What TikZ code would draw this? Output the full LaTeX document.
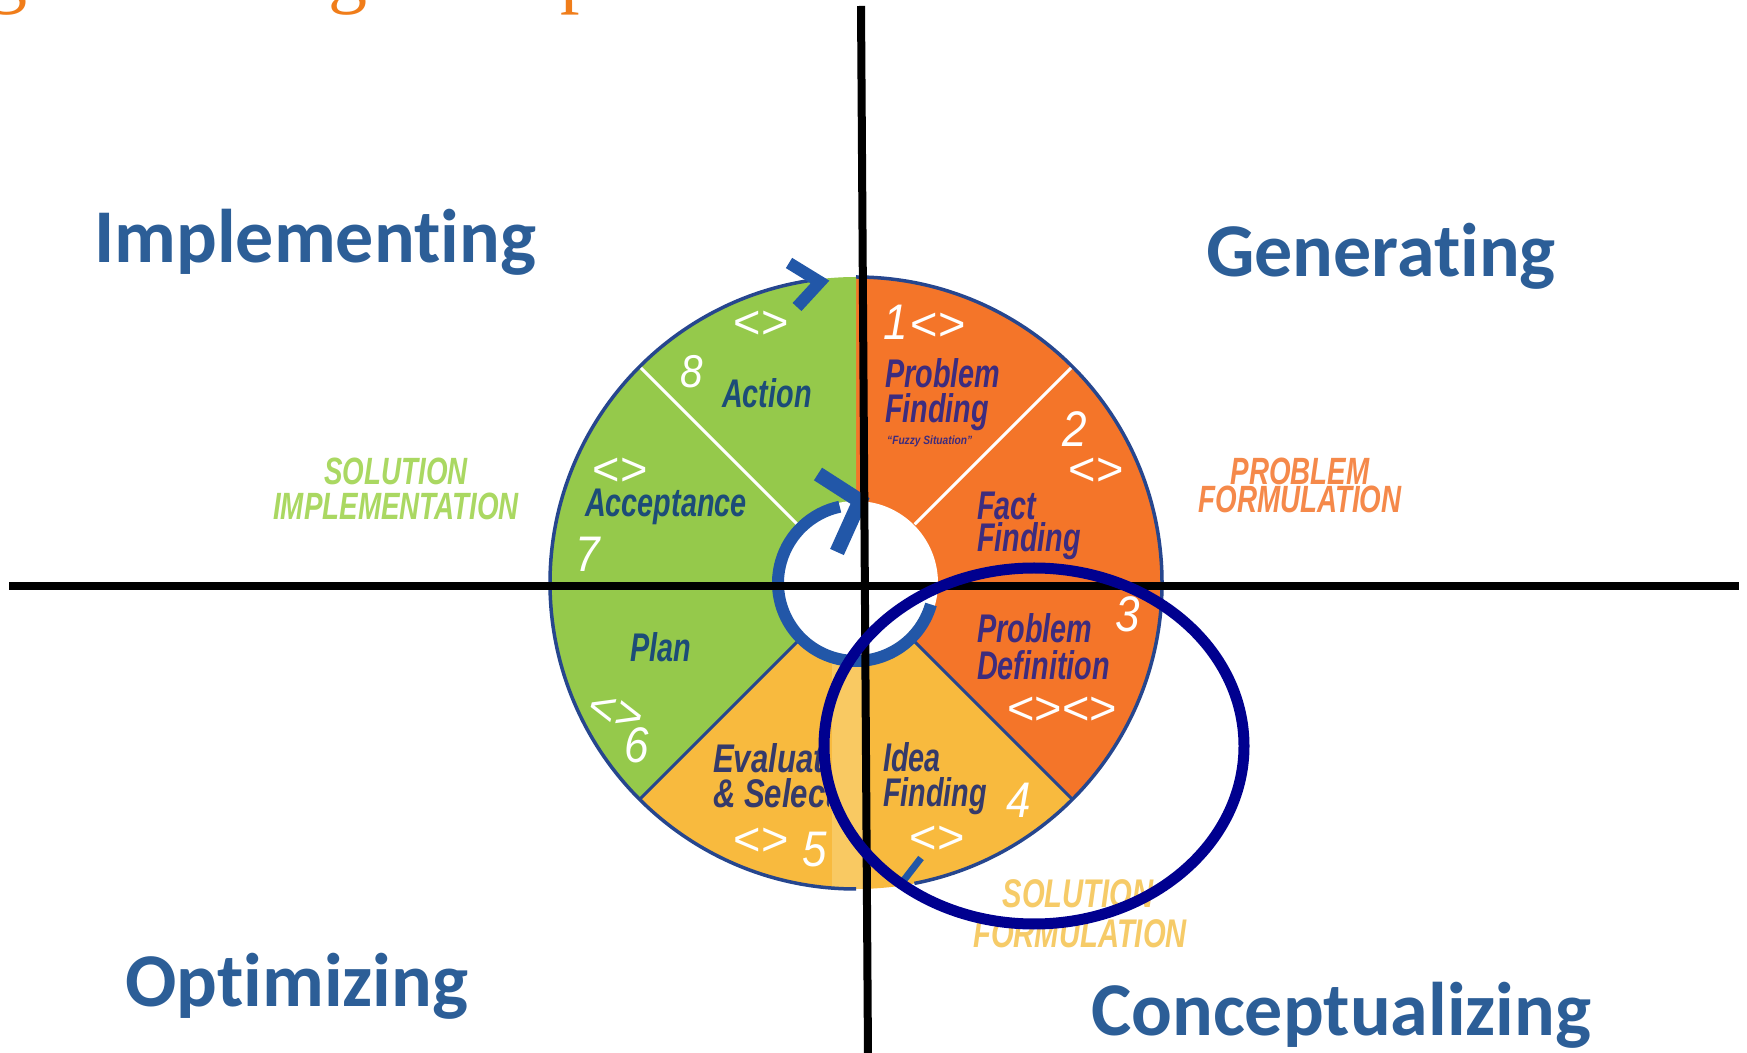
\documentclass[tikz,border=0pt]{standalone}
\usepackage{fontspec}
\usetikzlibrary{shapes.geometric}
\setmainfont{Liberation Sans}
\newfontfamily\calfont[Ligatures=NoCommon]{Carlito}
\newfontfamily\titlefont{Liberation Serif}
\definecolor{quadblue}{HTML}{2C5E97}
\definecolor{wgreen}{HTML}{95C94B}
\definecolor{worange}{HTML}{F47529}
\definecolor{wyellow}{HTML}{F8BA3E}
\definecolor{wlight}{HTML}{F9C962}
\definecolor{wborder}{HTML}{26468E}
\definecolor{arrowblue}{HTML}{2257A8}
\definecolor{navyring}{HTML}{00008F}
\definecolor{txtgreen}{HTML}{1C4C78}
\definecolor{txtorange}{HTML}{3D2C7E}
\definecolor{txtyellow}{HTML}{353A6A}
\definecolor{lblgreen}{HTML}{AAD862}
\definecolor{lblorange}{HTML}{F5894A}
\definecolor{lblyellow}{HTML}{F6CB68}
\definecolor{titleorange}{HTML}{F07D1A}
\tikzset{
  quad/.style={font=\calfont\bfseries\fontsize{76}{80}\selectfont, text=quadblue, anchor=base west, inner sep=0pt},
  phase/.style={font=\bfseries\itshape\fontsize{38}{40}\selectfont, xscale=0.73, anchor=base, inner sep=0pt},
  word/.style={font=\bfseries\itshape\fontsize{40}{42}\selectfont, xscale=0.72, anchor=base west, inner sep=0pt},
  num/.style={font=\itshape\fontsize{50}{52}\selectfont, text=white, xscale=0.88, anchor=base west, inner sep=0pt},
  chev/.style={font=\fontsize{47}{49}\selectfont, text=white, inner sep=0pt},
  divw/.style={white, line width=3pt},
  divd/.style={wborder, line width=3pt},
  rim/.style={wborder, line width=3.5pt},
  bluearrow/.style={arrowblue, line cap=butt, line join=miter},
  axis/.style={black, line width=8pt},
}
\begin{document}
\begin{tikzpicture}[x=1pt,y=1pt]
\useasboundingbox (0,0) rectangle (1747,1052);
\clip (0,0) rectangle (1747,1052);
\fill[white] (0,0) rectangle (1747,1052);
% title fragments (cut off at the top edge)
\node[font=\titlefont\fontsize{78}{80}\selectfont, text=titleorange, anchor=base west, inner sep=0pt] (t1) at (-12,1053) {g};
\node[font=\titlefont\fontsize{78}{80}\selectfont, text=titleorange, anchor=base west, inner sep=0pt] (t2) at (328,1053) {g};
\node[font=\titlefont\fontsize{78}{80}\selectfont, text=titleorange, anchor=base west, inner sep=0pt] (t3) at (560,1053) {p};
% wheel
\coordinate (W) at (856,469);
\fill[worange] (W) -- ++(-45:306) arc[start angle=-45, end angle=90, radius=306] -- cycle;
\fill[wgreen] (W) -- ++(90:306) arc[start angle=90, end angle=225, radius=306] -- cycle;
\fill[wyellow] (W) -- ++(225:306) arc[start angle=225, end angle=315, radius=306] -- cycle;
\begin{scope}
  \clip (W) -- ++(225:306) arc[start angle=225, end angle=315, radius=306] -- cycle;
  \fill[wlight] (832,0) rectangle (866,469);
\end{scope}
\draw[divw] (W) ++(45:83) -- ++(45:222);
\draw[divw] (W) ++(135:83) -- ++(135:222);
\draw[divd] (W) ++(-45:80) -- ++(-45:226);
\draw[divd] (W) ++(225:80) -- ++(225:226);
\draw[rim] (W) ++(90:306) arc[start angle=90, end angle=-79, radius=306];
\draw[rim] (W) ++(-90:306) arc[start angle=-90, end angle=-262, radius=306];
\draw[bluearrow, line width=12pt] (789,789) -- (820,770) -- (797,745);
\draw[bluearrow, line width=7pt] (921,194) -- (904,172);
% hole and inner arrow
\fill[white] (W) circle[radius=82];
\draw[arrowblue, line width=12pt] (W) ++(-16:78) arc[start angle=-16, end angle=-258, radius=78];
\draw[bluearrow, line width=15pt] (818,578) -- (860,551) -- (837,500);
% segment 1
\node[num] (n1) at (883,712) {1};
\node[chev] (c1) at (938,725) {<>};
\node[word, text=txtorange] (w1a) at (885,664) {Problem};
\node[word, text=txtorange] (w1b) at (885,629) {Finding};
\node[font=\bfseries\itshape\fontsize{12}{13}\selectfont, xscale=0.85, text=txtorange, anchor=base west, inner sep=0pt] (w1c) at (887,607) {“Fuzzy Situation”};
% segment 2
\node[num] (n2) at (1062,605) {2};
\node[chev] (c2) at (1096,580) {<>};
\node[word, text=txtorange] (w2a) at (977,532) {Fact};
\node[word, text=txtorange] (w2b) at (977,500) {Finding};
% segment 3
\node[num] (n3) at (1115,420) {3};
\node[word, text=txtorange] (w3a) at (977,409) {Problem};
\node[word, text=txtorange] (w3b) at (977,372) {Definition};
\node[chev] (c3) at (1062,341) {<><>};
% segment 4
\node[word, text=txtyellow] (w4a) at (883,280) {Idea};
\node[word, text=txtyellow] (w4b) at (883,245) {Finding};
\node[num] (n4) at (1006,234) {4};
\node[chev] (c4) at (937,212) {<>};
% segment 5
\begin{scope}
  \clip (700,150) rectangle (828,320);
  \node[word, xscale=1.08, text=txtyellow] (w5a) at (713,279) {Evaluate};
  \node[word, xscale=1.08, text=txtyellow] (w5b) at (713,244) {\& Select};
\end{scope}
\node[chev] (c5) at (761,210) {<>};
\node[num] (n5) at (802,185) {5};
% segment 6
\node[word, text=txtgreen] (w6) at (630,390) {Plan};
\node[chev, rotate=-15] (c6) at (616,339) {<>};
\node[num] (n6) at (624,289) {6};
% segment 7
\node[chev] (c7) at (620,580) {<>};
\node[word, text=txtgreen] (w7) at (585,535) {Acceptance};
\node[num] (n7) at (575,480) {7};
% segment 8
\node[num, font=\itshape\fontsize{46}{48}\selectfont] (n8) at (680,664) {8};
\node[word, text=txtgreen] (w8) at (722,644) {Action};
\node[chev] (c8) at (761,727) {<>};
% phase labels
\node[phase, text=lblgreen] (si1) at (396,567) {SOLUTION};
\node[phase, text=lblgreen] (si2) at (396,532) {IMPLEMENTATION};
\node[phase, text=lblorange] (pf1) at (1300,567) {PROBLEM};
\node[phase, text=lblorange] (pf2) at (1300,539) {FORMULATION};
\node[phase, font=\bfseries\itshape\fontsize{40}{42}\selectfont, text=lblyellow] (sf1) at (1078,144) {SOLUTION};
\node[phase, font=\bfseries\itshape\fontsize{40}{42}\selectfont, text=lblyellow] (sf2) at (1080,105) {FORMULATION};
% quadrant labels
\node[quad] (qi) at (94,789) {Implementing};
\node[quad] (qg) at (1206,775) {Generating};
\node[quad] (qo) at (125,46) {Optimizing};
\node[quad] (qc) at (1091,17) {Conceptualizing};
% axes
\coordinate (vt) at (861,1046);
\coordinate (vb) at (868,-5);
\coordinate (hl) at (9,466);
\coordinate (hr) at (1739,466);
\draw[axis] (vt) -- (vb);
\draw[axis] (hl) -- (hr);
% highlight ellipse
\node[draw=navyring, line width=11pt, ellipse, minimum width=420pt, minimum height=356pt, inner sep=0pt] (hi) at (1034,306) {};
\end{tikzpicture}
\end{document}
